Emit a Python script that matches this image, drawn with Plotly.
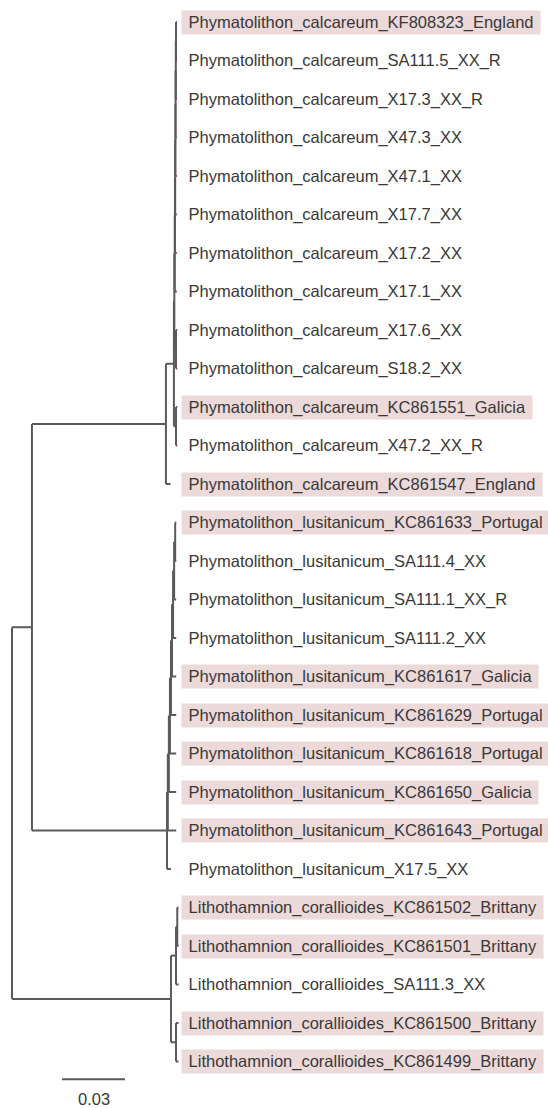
import plotly.graph_objects as go

# ---------------- data ----------------
taxa = [
    "Phymatolithon_calcareum_KF808323_England",
    "Phymatolithon_calcareum_SA111.5_XX_R",
    "Phymatolithon_calcareum_X17.3_XX_R",
    "Phymatolithon_calcareum_X47.3_XX",
    "Phymatolithon_calcareum_X47.1_XX",
    "Phymatolithon_calcareum_X17.7_XX",
    "Phymatolithon_calcareum_X17.2_XX",
    "Phymatolithon_calcareum_X17.1_XX",
    "Phymatolithon_calcareum_X17.6_XX",
    "Phymatolithon_calcareum_S18.2_XX",
    "Phymatolithon_calcareum_KC861551_Galicia",
    "Phymatolithon_calcareum_X47.2_XX_R",
    "Phymatolithon_calcareum_KC861547_England",
    "Phymatolithon_lusitanicum_KC861633_Portugal",
    "Phymatolithon_lusitanicum_SA111.4_XX",
    "Phymatolithon_lusitanicum_SA111.1_XX_R",
    "Phymatolithon_lusitanicum_SA111.2_XX",
    "Phymatolithon_lusitanicum_KC861617_Galicia",
    "Phymatolithon_lusitanicum_KC861629_Portugal",
    "Phymatolithon_lusitanicum_KC861618_Portugal",
    "Phymatolithon_lusitanicum_KC861650_Galicia",
    "Phymatolithon_lusitanicum_KC861643_Portugal",
    "Phymatolithon_lusitanicum_X17.5_XX",
    "Lithothamnion_corallioides_KC861502_Brittany",
    "Lithothamnion_corallioides_KC861501_Brittany",
    "Lithothamnion_corallioides_SA111.3_XX",
    "Lithothamnion_corallioides_KC861500_Brittany",
    "Lithothamnion_corallioides_KC861499_Brittany",
]
highlighted = [1, 0, 0, 0, 0, 0, 0, 0, 0, 0, 1, 0, 1,
               1, 0, 0, 0, 1, 1, 1, 1, 1, 0,
               1, 1, 0, 1, 1]

# tree topology with branch lengths (substitutions/site); tN = taxa[N]
calcareum = ("((((((((((t0:0.0004,t1:0.0004):0.0001,t2:0.0005):0.0001,t3:0.0006):0.0001,"
             "t4:0.0007):0.0001,t5:0.0008):0.0001,t6:0.0009):0.0001,t7:0.001):0.0002,"
             "(t8:0.0006,t9:0.0006):0.0008):0.0002,(t10:0.0006,t11:0.0006):0.001):0.0038,"
             "t12:0.0022):0.0638")
lusitanicum = ("(((((((((t13:0.0005,t14:0.0005):0.0005,t15:0.001):0.0005,t16:0.0015):0.0005,"
               "t17:0.002):0.0005,t18:0.0025):0.0005,t19:0.003):0.0005,t20:0.0035):0.0005,"
               "t21:0.004):0.0004,t22:0.0019):0.0643")
corallioides = ("(((t23:0.0006,t24:0.0006):0.0006,t25:0.0012):0.0024,"
                "(t26:0.0012,t27:0.0012):0.0024):0.0757")
newick = "((" + calcareum + "," + lusitanicum + "):0.0095," + corallioides + ");"

scale_bar_length = 0.03
scale_bar_label = "0.03"

# ---------------- parse & layout ----------------
def parse(s):
    pos = 0

    def node():
        nonlocal pos
        children = []
        if s[pos] == "(":
            pos += 1
            while True:
                children.append(node())
                if s[pos] == ",":
                    pos += 1
                    continue
                if s[pos] == ")":
                    pos += 1
                    break
        start = pos
        while pos < len(s) and s[pos] not in ":,();":
            pos += 1
        name = s[start:pos]
        bl = 0.0
        if pos < len(s) and s[pos] == ":":
            pos += 1
            start = pos
            while s[pos] not in ",();":
                pos += 1
            bl = float(s[start:pos])
        return {"name": name, "bl": bl, "children": children}

    return node()


root = parse(newick)
counter = [0]


def layout(n, parent_x):
    n["x"] = parent_x + n["bl"]
    if n["children"]:
        for c in n["children"]:
            layout(c, n["x"])
        n["y"] = (n["children"][0]["y"] + n["children"][-1]["y"]) / 2
    else:
        n["y"] = counter[0]
        n["idx"] = int(n["name"][1:])
        counter[0] += 1


layout(root, 0.0)

xs, ys = [], []


def collect(n):
    if not n["children"]:
        return
    xs.extend([n["x"], n["x"], None])
    ys.extend([n["children"][0]["y"], n["children"][-1]["y"], None])
    for c in n["children"]:
        xs.extend([n["x"], c["x"], None])
        ys.extend([c["y"], c["y"], None])
        collect(c)


collect(root)

leaves = []


def get_leaves(n):
    if n["children"]:
        for c in n["children"]:
            get_leaves(c)
    else:
        leaves.append(n)


get_leaves(root)

# ---------------- figure ----------------
W, H = 548, 1108
px_per_unit = 2100.0
x0_px = 12.0
row0_px, row_px = 22.0, 38.5

line_color = "#5a5a5a"
fig = go.Figure()
fig.add_trace(go.Scatter(x=xs, y=ys, mode="lines",
                         line=dict(color=line_color, width=2),
                         hoverinfo="skip", showlegend=False))

n = len(leaves)
sb_x0 = (62 - x0_px) / px_per_unit
sb_y = n - 1 + 0.46
fig.add_trace(go.Scatter(x=[sb_x0, sb_x0 + scale_bar_length], y=[sb_y, sb_y],
                         mode="lines", line=dict(color=line_color, width=2),
                         hoverinfo="skip", showlegend=False))

font = dict(family="Liberation Sans, Arial, sans-serif", size=16.5, color="#383838")
annotations = []
for lf in leaves:
    i = lf["idx"]
    annotations.append(dict(
        x=181 / W, xref="paper", xanchor="left",
        y=lf["y"], yref="y", yanchor="middle",
        text="\u00a0" + taxa[i] + "\u00a0", showarrow=False,
        bgcolor="#ecd9d9" if highlighted[i] else "rgba(0,0,0,0)",
        borderpad=2, font=font,
    ))
annotations.append(dict(
    x=sb_x0 + scale_bar_length / 2, xref="x", xanchor="center",
    y=n - 1 + 0.98, yref="y", yanchor="middle",
    text=scale_bar_label, showarrow=False, font=font,
))

fig.update_layout(
    width=W, height=H,
    margin=dict(l=0, r=0, t=0, b=0),
    paper_bgcolor="white", plot_bgcolor="white",
    xaxis=dict(visible=False, range=[-x0_px / px_per_unit, (W - x0_px) / px_per_unit]),
    yaxis=dict(visible=False,
               range=[(H - row0_px) / row_px, -row0_px / row_px]),
    annotations=annotations,
    showlegend=False,
)

fig.write_html("out.html",
               config={"displayModeBar": False},
               post_script="document.body.style.margin='0';"
                           "document.body.style.overflow='hidden';")
